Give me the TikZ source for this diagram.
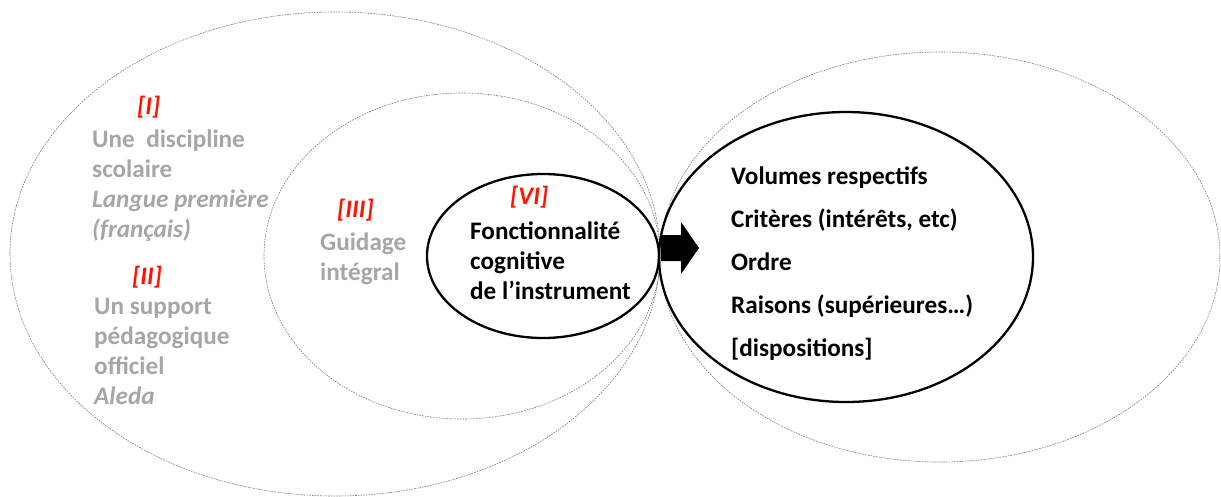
\documentclass[tikz,border=0pt]{standalone}
\usepackage{fontspec}
\setmainfont{Carlito}
\usetikzlibrary{shapes.geometric}
\definecolor{txtgray}{RGB}{166,166,166}
\definecolor{lblred}{RGB}{255,20,0}
\definecolor{dotgray}{RGB}{120,120,120}
\tikzset{
  dotell/.style={ellipse, draw=dotgray, line width=0.6pt, dash pattern=on 1.6pt off 1.1pt, inner sep=0pt},
  solidell/.style={ellipse, draw=black, line width=2.3pt, inner sep=0pt},
  txt/.style={anchor=base west, inner sep=0pt, font=\fontsize{25.2}{30}\selectfont\bfseries},
  graytxt/.style={txt, text=txtgray},
  blacktxt/.style={txt, text=black},
  redlbl/.style={txt, text=lblred, font=\fontsize{25.2}{30}\selectfont\bfseries\itshape},
  grayit/.style={graytxt, font=\fontsize{25.2}{30}\selectfont\bfseries\itshape},
}
\begin{document}
\begin{tikzpicture}[x=1pt, y=-1pt]
\useasboundingbox (0,0) rectangle (1221,496);
% dotted ellipses
\node[dotell, minimum width=650pt, minimum height=484pt] (outerL) at (335,254) {};
\node[dotell, minimum width=396pt, minimum height=326pt] (midL) at (462,256) {};
\node[dotell, minimum width=560pt, minimum height=410pt] (outerR) at (940,257) {};
% solid ellipses
\node[solidell, minimum width=232pt, minimum height=164pt] (inst) at (543,256) {};
\node[solidell, minimum width=374pt, minimum height=290pt] (res) at (846,257) {};
% arrow
\fill[black] (661,235) -- (681,235) -- (681,222) -- (699,248) -- (681,274) -- (681,261) -- (661,261) -- cycle;
% block I
\node[redlbl] (l1) at (137,114) {[I]};
\node[graytxt] (t1a) at (92,147) {Une\ \ discipline};
\node[graytxt] (t1b) at (92,177) {scolaire};
\node[grayit] (t1c) at (92,207) {Langue première};
\node[grayit] (t1d) at (92,237) {(français)};
% block II
\node[redlbl] (l2) at (132,284) {[II]};
\node[graytxt] (t2a) at (94,314) {Un support};
\node[graytxt] (t2b) at (94,344) {pédagogique};
\node[graytxt] (t2c) at (94,374) {officiel};
\node[grayit] (t2d) at (94,404) {Aleda};
% block III
\node[redlbl] (l3) at (337,217) {[III]};
\node[graytxt] (t3a) at (320,250) {Guidage};
\node[graytxt] (t3b) at (320,280) {intégral};
% block VI
\node[redlbl] (l6) at (510,204) {[VI]};
\node[blacktxt] (t6a) at (470,239) {Fonctionnalité};
\node[blacktxt] (t6b) at (470,269) {cognitive};
\node[blacktxt] (t6c) at (470,299) {de l’instrument};
% right list
\node[blacktxt] (r1) at (731,184) {Volumes respectifs};
\node[blacktxt] (r2) at (731,227) {Critères (intérêts, etc)};
\node[blacktxt] (r3) at (731,270) {Ordre};
\node[blacktxt] (r4) at (731,313) {Raisons (supérieures…)};
\node[blacktxt] (r5) at (731,356) {[dispositions]};
\end{tikzpicture}
\end{document}
